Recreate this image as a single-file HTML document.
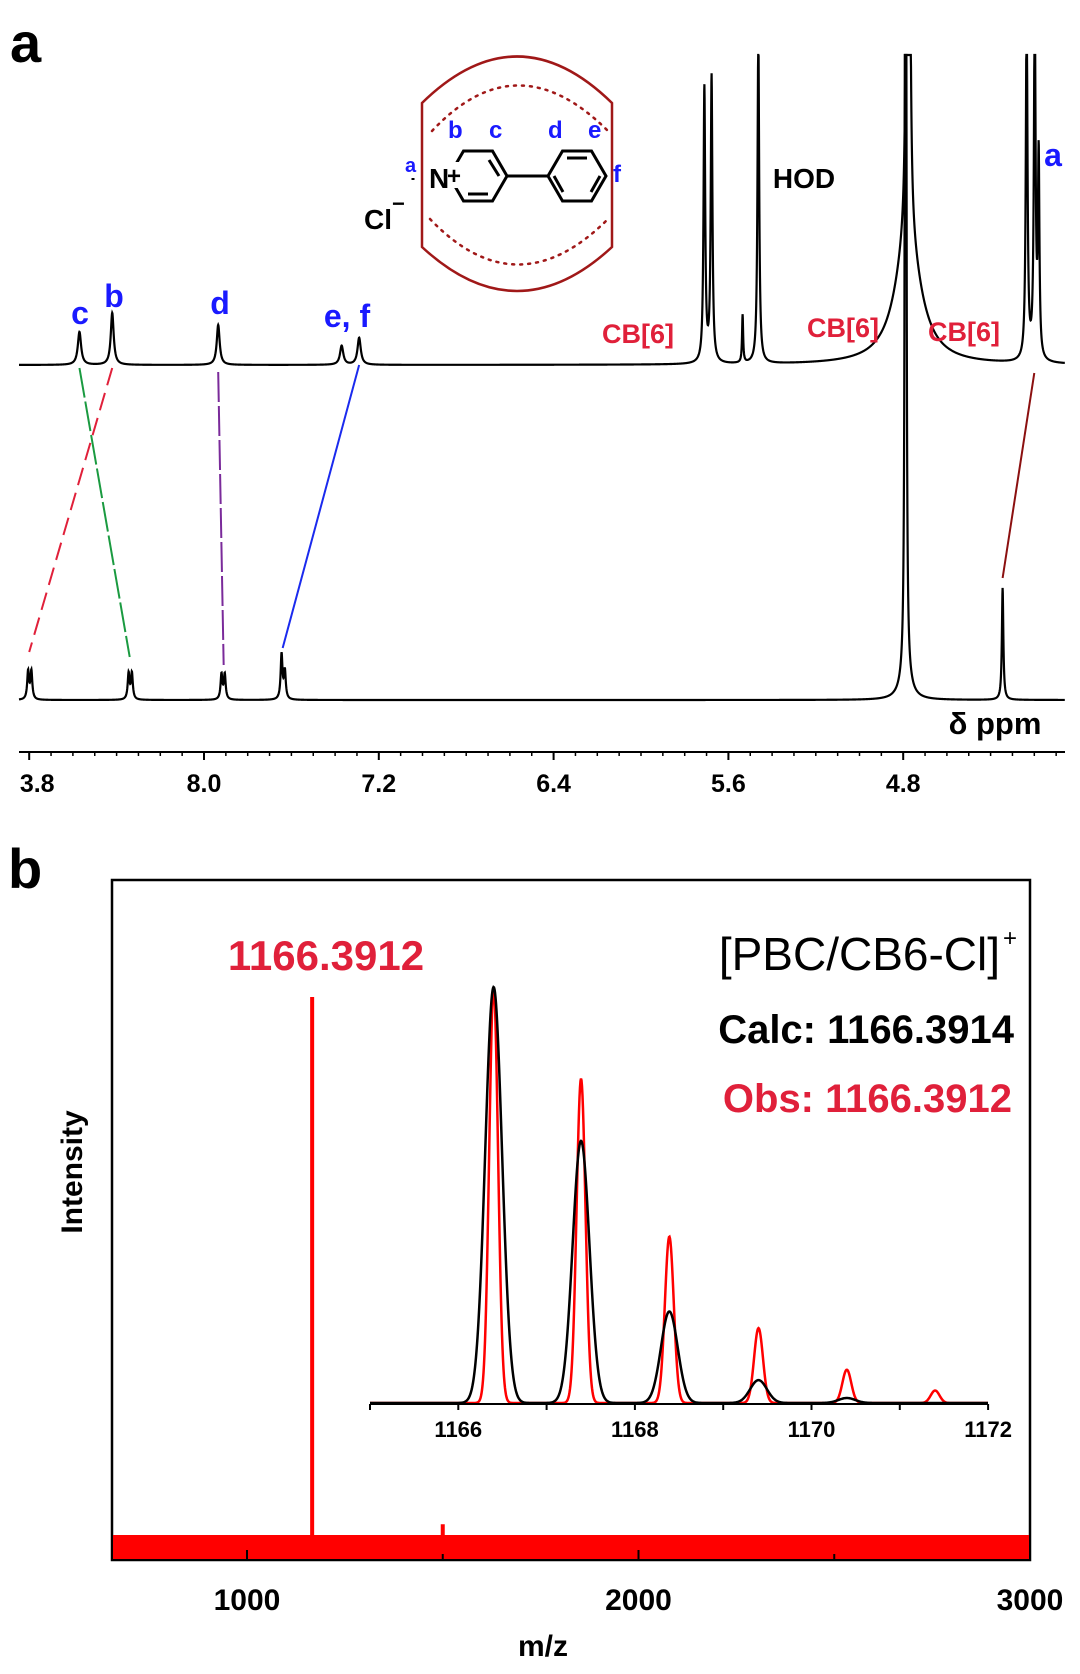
<!DOCTYPE html>
<html><head><meta charset="utf-8"><style>
body{margin:0;background:#fff}
svg{display:block;font-family:"Liberation Sans",Arial,sans-serif}
</style></head><body>
<svg id="s" width="1080" height="1674" viewBox="0 0 1080 1674" xmlns="http://www.w3.org/2000/svg">
<defs>
<clipPath id="nmrclip"><rect x="19" y="55" width="1046" height="700"/></clipPath>
<clipPath id="msclip"><rect x="112" y="880" width="918" height="680"/></clipPath>
</defs>
<text x="10" y="62" font-size="56" font-weight="bold">a</text>
<text x="8" y="888" font-size="56" font-weight="bold">b</text>

<g>
<path d="M422,103 Q517,10 612,103 L612,247 Q517,335 422,247 Z" fill="none" stroke="#a01818" stroke-width="2.5"/>
<path d="M432,131 Q517,40 608,131" fill="none" stroke="#a01818" stroke-width="2.5" stroke-dasharray="2,6" stroke-linecap="round"/>
<path d="M430,219 Q517,310 608,219" fill="none" stroke="#a01818" stroke-width="2.5" stroke-dasharray="2,6" stroke-linecap="round"/>
<g fill="none" stroke="#000" stroke-width="3">
<polygon points="507,176 492.5,151 463.5,151 449,176 463.5,201 492.5,201"/>
<polygon points="606,176 591.5,151 562.5,151 548,176 562.5,201 591.5,201"/>
<line x1="507" y1="176" x2="548" y2="176"/>
<line x1="489" y1="160" x2="499" y2="176"/><line x1="468" y1="194" x2="488" y2="194"/>
<line x1="567" y1="158" x2="587" y2="158"/><line x1="554" y1="176" x2="563" y2="192"/><line x1="600" y1="176" x2="591" y2="192"/>
</g>
<rect x="441" y="162" width="22" height="26" fill="#fff"/>
<text x="429" y="188" font-size="28" font-weight="bold">N</text>
<text x="447" y="184" font-size="24" font-weight="bold">+</text>
<line x1="413" y1="180" x2="413" y2="178" stroke="#000" stroke-width="3"/>
<text x="364" y="229" font-size="28" font-weight="bold">Cl</text>
<text x="392" y="211" font-size="22" font-weight="bold">−</text>
<g fill="#1a1aff" font-weight="bold" font-size="24">
<text x="405" y="172" font-size="20">a</text>
<text x="448" y="138">b</text><text x="489" y="138">c</text>
<text x="548" y="138">d</text><text x="588" y="138">e</text>
<text x="613" y="182">f</text>
</g>
</g>

<g id="nmr"></g>
<g id="ms"></g>
</svg>
<script>
// ---------- NMR data ----------
const upperShifts = [8.57, 8.42, 7.935, 7.37, 7.29, 5.71, 5.677, 5.535, 5.463, 4.781, 4.774, 4.778, 4.235, 4.198, 4.18];
const upperHeights = [33, 52, 40, 19, 27, 275, 286, 48, 330, 1500, 1500, 125, 360, 360, 200];
const upperWidths = [0.009, 0.008, 0.008, 0.009, 0.009, 0.0045, 0.0045, 0.003, 0.0045, 0.003, 0.003, 0.07, 0.0045, 0.0045, 0.004];
const lowerShifts = [8.805, 8.79, 8.345, 8.33, 7.92, 7.905, 7.645, 7.63, 4.789, 4.789, 4.345];
const lowerHeights = [28, 28, 26, 26, 25, 25, 45, 28, 3000, 25, 112];
const lowerWidths = [0.005, 0.005, 0.005, 0.005, 0.005, 0.005, 0.005, 0.005, 0.002, 0.025, 0.004];
const nmrTicks = [8.8, 8.0, 7.2, 6.4, 5.6, 4.8];
const nmrTickLabels = ["3.8", "8.0", "7.2", "6.4", "5.6", "4.8"];
// ---------- MS data ----------
const msPeakMz = [1166.39, 1500];
const msPeakInt = [100, 5];
const msTicks = [1000, 2000, 3000];
const insetMz = [1166.4, 1167.39, 1168.39, 1169.4, 1170.4, 1171.4];
const insetRed = [100, 78, 40, 18, 8, 3];
const insetBlack = [100, 63, 22, 5.5, 1.2, 0];
const insetTicks = [1166, 1168, 1170, 1172];

const NS = "http://www.w3.org/2000/svg";
function mk(parent, tag, attrs, text){
  const e = document.createElementNS(NS, tag);
  for (const k in attrs) e.setAttribute(k, attrs[k]);
  if (text !== undefined) e.textContent = text;
  parent.appendChild(e); return e;
}
const nx = p => 204 + (8.0 - p) * 218.5;
const nmr = document.getElementById('nmr');
function lorentz(shifts, heights, widths, base){
  let d = "";
  for (let x = 19; x <= 1065; x += 0.2){
    const p = 8.0 - (x - 204) / 218.5;
    let y = 0;
    for (let i = 0; i < shifts.length; i++){ const t = (p - shifts[i]) / widths[i]; y += heights[i] / (1 + t*t); }
    d += (d ? "L" : "M") + x.toFixed(2) + "," + Math.max(base - y, 55).toFixed(2);
  }
  return d;
}
const up = mk(nmr, 'path', {d: lorentz(upperShifts, upperHeights, upperWidths, 365), fill:'none', stroke:'#000', 'stroke-width':2.2});


const lo = mk(nmr, 'path', {d: lorentz(lowerShifts, lowerHeights, lowerWidths, 700), fill:'none', stroke:'#000', 'stroke-width':2.2});


const conns = [[8.42,8.8,'#e0203a','18,8'],[8.57,8.34,'#1a9a40','30,4'],[7.935,7.91,'#7a2a9a','30,4'],[7.29,7.64,'#1a2aee',''],[4.2,4.345,'#8b1010','']];
const cy = [[368,652],[368,657],[372,665],[365,648],[373,578]];
conns.forEach((c,i)=>{
  const l = mk(nmr, 'line', {x1:nx(c[0]), y1:cy[i][0], x2:nx(c[1]), y2:cy[i][1], stroke:c[2], 'stroke-width':2, 'stroke-dasharray':c[3]});
  
  
});
const ax = mk(nmr, 'line', {x1:19, y1:752, x2:1065, y2:752, stroke:'#000', 'stroke-width':2});


for (let p = 8.8; p >= 4.06; p -= 0.1){
  mk(nmr, 'line', {x1:nx(p), y1:752, x2:nx(p), y2:756, stroke:'#000', 'stroke-width':1.5});
}
nmrTicks.forEach((t,i)=>{
  mk(nmr, 'line', {x1:nx(t), y1:752, x2:nx(t), y2:760, stroke:'#000', 'stroke-width':2});
  const tl = mk(nmr, 'text', {x:nx(t) + (i===0 ? 8 : 0), y:792, 'font-size':25, 'font-weight':'bold', 'text-anchor':'middle'}, nmrTickLabels[i]);
  
  
});
const nl = [["c",80,324,'#1a1aff',32],["b",114,307,'#1a1aff',32],["d",220,314,'#1a1aff',32],["e, f",347,327,'#1a1aff',32],
 ["CB[6]",638,343,'#e0203a',27],["CB[6]",843,337,'#e0203a',27],["CB[6]",964,341,'#e0203a',27],
 ["HOD",804,188,'#000',28],["a",1053,166,'#1a1aff',32],["δ ppm",995,734,'#000',31]];
nl.forEach(a=>{
  const t = mk(nmr, 'text', {x:a[1], y:a[2], fill:a[3], 'font-size':a[4], 'font-weight':'bold', 'text-anchor':'middle'}, a[0]);
  
  
});

// MS panel
const ms = document.getElementById('ms');
const mx = m => 247 + (m - 1000) * 0.3915;
const my = v => 1552 - v * 5.55;
const box = mk(ms, 'rect', {x:112, y:880, width:918, height:680, fill:'none', stroke:'#000', 'stroke-width':2.5});


const band = mk(ms, 'rect', {x:113, y:1535, width:916, height:24, fill:'#f00'});


msPeakMz.forEach((m,i)=>{
  const r = mk(ms, 'rect', {x:mx(m)-2, y:my(msPeakInt[i]), width:4, height:1552-my(msPeakInt[i]), fill:'#f00', 'clip-path':'url(#msclip)'});
  
  
});
[1500,2500].concat(msTicks).forEach(t=>{
  mk(ms, 'line', {x1:mx(t), y1:1560, x2:mx(t), y2:(msTicks.includes(t)?1550:1554), stroke:'#000', 'stroke-width':2});
});
msTicks.forEach(t=>{
  const tl = mk(ms, 'text', {x:mx(t), y:1610, 'font-size':30, 'font-weight':'bold', 'text-anchor':'middle'}, String(t));
  
  
});
const xt = mk(ms, 'text', {x:543, y:1656, 'font-size':30, 'font-weight':'bold', 'text-anchor':'middle'}, 'm/z');


const yt = mk(ms, 'text', {x:0, y:0, 'font-size':30, 'font-weight':'bold', 'text-anchor':'middle', transform:'translate(82,1172) rotate(-90)'}, 'Intensity');


const pl = mk(ms, 'text', {x:326, y:970, fill:'#e0203a', 'font-size':42, 'font-weight':'bold', 'text-anchor':'middle'}, '1166.3912');


const f1 = mk(ms, 'text', {x:1000, y:970, 'font-size':46, 'text-anchor':'end'}, '[PBC/CB6-Cl]');


mk(ms, 'text', {x:1003, y:946, 'font-size':24}, '+');
const c1 = mk(ms, 'text', {x:1014, y:1043, 'font-size':40, 'font-weight':'bold', 'text-anchor':'end'}, 'Calc: 1166.3914');


const o1 = mk(ms, 'text', {x:1012, y:1112, fill:'#e0203a', 'font-size':40, 'font-weight':'bold', 'text-anchor':'end'}, 'Obs: 1166.3912');



const ix = m => 370 + (m - 1165) * 88.3;
const iy = v => 1403 - v * 4.16;
function gauss(vals, sig){
  let d = "";
  for (let x = 370; x <= 988; x += 0.5){
    const m = 1165 + (x - 370) / 88.3;
    let y = 0;
    for (let i = 0; i < insetMz.length; i++){ const t = (m - insetMz[i]) / sig; y += vals[i] * Math.exp(-0.5*t*t); }
    d += (d ? "L" : "M") + x.toFixed(1) + "," + iy(y).toFixed(2);
  }
  return d;
}
const ired = mk(ms, 'path', {d:gauss(insetRed, 0.05), fill:'none', stroke:'#f00', 'stroke-width':2.5});


const iblk = mk(ms, 'path', {d:gauss(insetBlack, 0.095), fill:'none', stroke:'#000', 'stroke-width':2.5});


const iax = mk(ms, 'line', {x1:370, y1:1404, x2:988, y2:1404, stroke:'#000', 'stroke-width':2});


for (let m = 1165; m <= 1172; m += 1){
  mk(ms, 'line', {x1:ix(m), y1:1404, x2:ix(m), y2:1410, stroke:'#000', 'stroke-width':2});
}
insetTicks.forEach(t=>{
  const tl = mk(ms, 'text', {x:ix(t), y:1437, 'font-size':22, 'font-weight':'bold', 'text-anchor':'middle'}, String(t));
  
  
});
</script>
</body></html>
